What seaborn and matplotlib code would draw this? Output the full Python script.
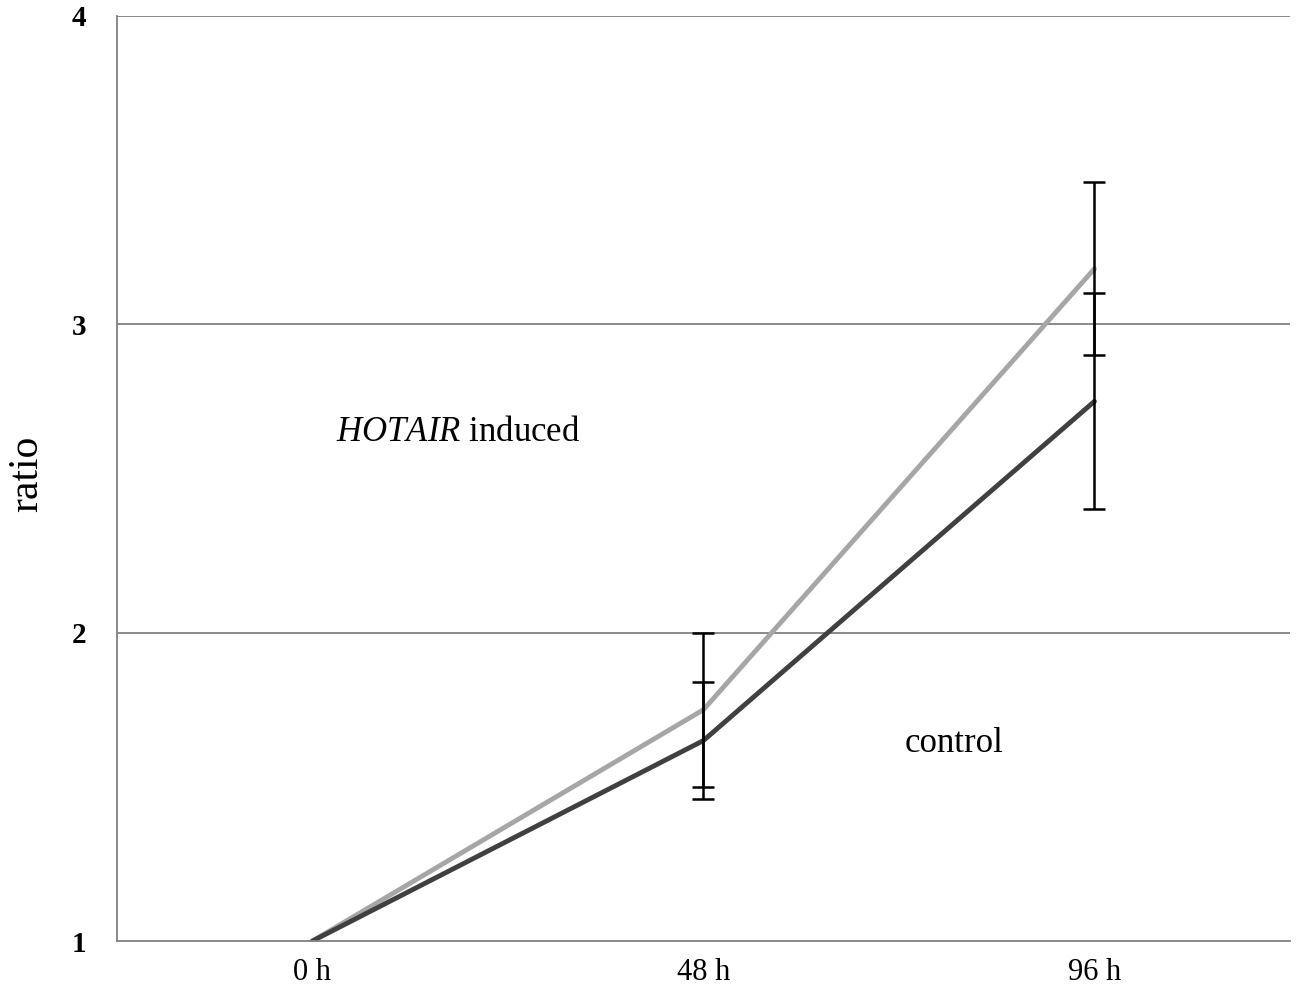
import matplotlib
matplotlib.use("Agg")
import matplotlib.pyplot as plt
import numpy as np
import pandas as pd
import seaborn as sns

times = ["0 h", "48 h", "96 h"]
hotair = [1.0, 1.75, 3.18]
hotair_err = [0.0, 0.25, 0.28]
control = [1.0, 1.65, 2.75]
control_err = [0.0, 0.19, 0.35]

sns.set_style("white")
plt.rcParams['font.family'] = ['Liberation Serif', 'DejaVu Serif']
plt.rcParams['text.color'] = 'black'
plt.rcParams['axes.labelcolor'] = 'black'
plt.rcParams['xtick.color'] = 'black'
plt.rcParams['ytick.color'] = 'black'
plt.rcParams['mathtext.fontset'] = 'custom'
plt.rcParams['mathtext.rm'] = 'Liberation Serif'
plt.rcParams['mathtext.it'] = 'Liberation Serif:italic'

df = pd.DataFrame({
    "pos": list(range(len(times))) * 2,
    "ratio": hotair + control,
    "group": ["HOTAIR induced"] * 3 + ["control"] * 3,
})

fig, ax = plt.subplots(figsize=(12.99, 9.94), dpi=100)
fig.subplots_adjust(left=0.09, right=0.993, top=0.984, bottom=0.0533)

for y in [2, 3, 4]:
    ax.axhline(y, color="#808080", lw=1.3, zorder=0)

sns.lineplot(data=df, x="pos", y="ratio", hue="group",
             palette={"HOTAIR induced": "#a6a6a6", "control": "#404040"},
             linewidth=3.5, legend=False, ax=ax, zorder=2)

x = np.arange(len(times))
ax.errorbar(x[1:], hotair[1:], yerr=hotair_err[1:], fmt="none", ecolor="black",
            elinewidth=1.8, capsize=8, capthick=1.8, zorder=3)
ax.errorbar(x[1:], control[1:], yerr=control_err[1:], fmt="none", ecolor="black",
            elinewidth=1.8, capsize=8, capthick=1.8, zorder=3)

ax.set_xlim(-0.5, 2.5)
ax.set_ylim(1, 4)
ax.set_xticks(x)
ax.set_xticklabels(times, fontsize=22)
ax.set_yticks([1, 2, 3, 4])
ax.set_yticklabels(["1", "2", "3", "4"], fontsize=21, fontweight="bold")
ax.tick_params(axis="x", length=0, pad=12)
ax.tick_params(axis="y", length=0, pad=22)
ax.set_xlabel("")
ax.set_ylabel("ratio", fontsize=30)
ax.yaxis.set_label_coords(-0.06, 0.505)

for s in ["top", "right"]:
    ax.spines[s].set_visible(False)
for s in ["left", "bottom"]:
    ax.spines[s].set_color("#808080")
    ax.spines[s].set_linewidth(1.3)

ax.text(0.06, 2.65, r"$\it{HOTAIR}$ induced", fontsize=25, va="center", ha="left")
ax.text(1.515, 1.64, "control", fontsize=25, va="center", ha="left")

plt.savefig("out.png", dpi=100)
